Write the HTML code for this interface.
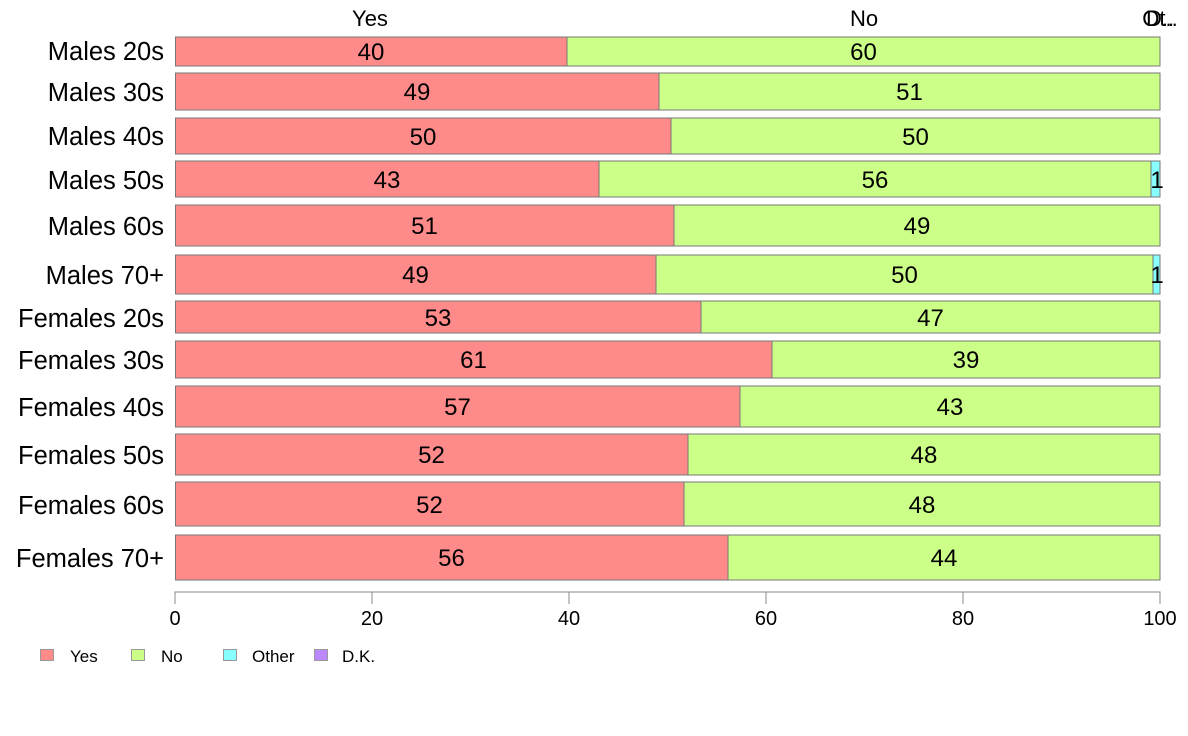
<!DOCTYPE html>
<html><head><meta charset="utf-8"><style>body{margin:0;background:#fff}svg{display:block}</style></head><body>
<svg width="1188" height="736" xmlns="http://www.w3.org/2000/svg" font-family="Liberation Sans, sans-serif">
<g font-size="22" fill="#000" text-anchor="middle">
<text x="370" y="26">Yes</text><text x="864" y="26">No</text>
<text x="1160" y="26">Ot..</text><text x="1160" y="26">D..</text>
</g>
<g stroke="#777" stroke-width="1">
<rect x="175.5" y="37" width="391.5" height="29" fill="#FF8A8A"/><rect x="567" y="37" width="593" height="29" fill="#CCFF88"/>
<rect x="175.5" y="73" width="483.5" height="37" fill="#FF8A8A"/><rect x="659" y="73" width="501" height="37" fill="#CCFF88"/>
<rect x="175.5" y="118" width="495.5" height="36" fill="#FF8A8A"/><rect x="671" y="118" width="489" height="36" fill="#CCFF88"/>
<rect x="175.5" y="161" width="423.5" height="36" fill="#FF8A8A"/><rect x="599" y="161" width="552" height="36" fill="#CCFF88"/><rect x="1151" y="161" width="9" height="36" fill="#88FFFF"/>
<rect x="175.5" y="205" width="498.5" height="41" fill="#FF8A8A"/><rect x="674" y="205" width="486" height="41" fill="#CCFF88"/>
<rect x="175.5" y="255" width="480.5" height="39" fill="#FF8A8A"/><rect x="656" y="255" width="497" height="39" fill="#CCFF88"/><rect x="1153" y="255" width="7" height="39" fill="#88FFFF"/>
<rect x="175.5" y="301" width="525.5" height="32" fill="#FF8A8A"/><rect x="701" y="301" width="459" height="32" fill="#CCFF88"/>
<rect x="175.5" y="341" width="596.5" height="37" fill="#FF8A8A"/><rect x="772" y="341" width="388" height="37" fill="#CCFF88"/>
<rect x="175.5" y="386" width="564.5" height="41" fill="#FF8A8A"/><rect x="740" y="386" width="420" height="41" fill="#CCFF88"/>
<rect x="175.5" y="434" width="512.5" height="41" fill="#FF8A8A"/><rect x="688" y="434" width="472" height="41" fill="#CCFF88"/>
<rect x="175.5" y="482" width="508.5" height="44" fill="#FF8A8A"/><rect x="684" y="482" width="476" height="44" fill="#CCFF88"/>
<rect x="175.5" y="535" width="552.5" height="45" fill="#FF8A8A"/><rect x="728" y="535" width="432" height="45" fill="#CCFF88"/>
<path d="M175 604V592H1160V604M372 592V604M569 592V604M766 592V604M963 592V604" fill="none" stroke="#888"/>
</g>
<g font-size="24" text-anchor="middle" fill="#000">
<text x="371" y="60">40</text><text x="863.5" y="60">60</text>
<text x="417" y="100">49</text><text x="909.5" y="100">51</text>
<text x="423" y="145">50</text><text x="915.5" y="145">50</text>
<text x="387" y="188">43</text><text x="875" y="188">56</text><text x="1157" y="188">1</text>
<text x="424.5" y="234">51</text><text x="917" y="234">49</text>
<text x="415.5" y="283">49</text><text x="904.5" y="283">50</text><text x="1157" y="283">1</text>
<text x="438" y="326">53</text><text x="930.5" y="326">47</text>
<text x="473.5" y="368">61</text><text x="966" y="368">39</text>
<text x="457.5" y="415">57</text><text x="950" y="415">43</text>
<text x="431.5" y="463">52</text><text x="924" y="463">48</text>
<text x="429.5" y="513">52</text><text x="922" y="513">48</text>
<text x="451.5" y="566">56</text><text x="944" y="566">44</text>
</g>
<g font-size="25.5" text-anchor="end" fill="#000">
<text x="164" y="60">Males 20s</text>
<text x="164" y="101">Males 30s</text>
<text x="164" y="145">Males 40s</text>
<text x="164" y="189">Males 50s</text>
<text x="164" y="235">Males 60s</text>
<text x="164" y="284">Males 70+</text>
<text x="164" y="327">Females 20s</text>
<text x="164" y="369">Females 30s</text>
<text x="164" y="416">Females 40s</text>
<text x="164" y="464">Females 50s</text>
<text x="164" y="514">Females 60s</text>
<text x="164" y="567">Females 70+</text>
</g>
<g font-size="20" text-anchor="middle" fill="#000">
<text x="175" y="625">0</text><text x="372" y="625">20</text><text x="569" y="625">40</text><text x="766" y="625">60</text><text x="963" y="625">80</text><text x="1160" y="625">100</text>
</g>
<g font-size="17" fill="#000" stroke-width="1">
<rect x="40.5" y="649.5" width="13" height="11" fill="#FF8A8A" stroke="#999"/><text x="70" y="662">Yes</text>
<rect x="131.5" y="649.5" width="13" height="11" fill="#CCFF88" stroke="#999"/><text x="161" y="662">No</text>
<rect x="223.5" y="649.5" width="13" height="11" fill="#88FFFF" stroke="#999"/><text x="252" y="662">Other</text>
<rect x="314.5" y="649.5" width="13" height="11" fill="#BB88FF" stroke="#999"/><text x="342" y="662">D.K.</text>
</g>
</svg>
</body></html>
